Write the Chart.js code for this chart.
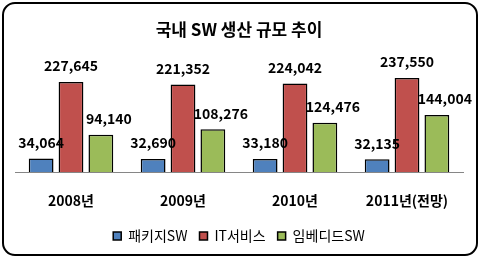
<!DOCTYPE html>
<html>
<head>
<meta charset="utf-8">
<script src="https://cdn.jsdelivr.net/npm/chart.js@4/dist/chart.umd.min.js"></script>
<style>
  html, body { margin: 0; padding: 0; background: #fff; }
  #wrap { width: 480px; height: 259px; }
</style>
</head>
<body>
<div id="wrap"><canvas id="c" width="480" height="259"></canvas></div>
<script>
const years = ['2008년', '2009년', '2010년', '2011년(전망)'];
const packageSW = [34064, 32690, 33180, 32135];
const itService = [227645, 221352, 224042, 237550];
const embeddedSW = [94140, 108276, 124476, 144004];

const FONT = '"Noto Sans CJK KR", "Noto Sans", sans-serif';

// rounded frame around the whole chart
const framePlugin = {
  id: 'frame',
  beforeDraw(chart) {
    const ctx = chart.ctx;
    ctx.save();
    ctx.fillStyle = '#fff';
    ctx.fillRect(0, 0, chart.width, chart.height);
    ctx.beginPath();
    ctx.roundRect(3, 3, 474, 252, 12);
    ctx.lineWidth = 2;
    ctx.strokeStyle = '#000';
    ctx.stroke();
    ctx.restore();
  }
};

// value labels above each bar (the green ones sit a bit to the right in the original)
const labelShift = [0, 0, 8];
const valueLabels = {
  id: 'valueLabels',
  afterDatasetsDraw(chart) {
    const ctx = chart.ctx;
    ctx.save();
    ctx.font = 'bold 14px ' + FONT;
    ctx.fillStyle = '#000';
    ctx.textAlign = 'center';
    ctx.textBaseline = 'middle';
    chart.data.datasets.forEach((ds, i) => {
      chart.getDatasetMeta(i).data.forEach((bar, j) => {
        ctx.fillText(ds.data[j].toLocaleString('en-US'), bar.x + labelShift[i], bar.y - 16);
      });
    });
    ctx.restore();
  }
};

new Chart(document.getElementById('c'), {
  type: 'bar',
  data: {
    labels: years,
    datasets: [
      { label: '패키지SW', data: packageSW, backgroundColor: '#4F81BD' },
      { label: 'IT서비스', data: itService, backgroundColor: '#C0504D' },
      { label: '임베디드SW', data: embeddedSW, backgroundColor: '#9BBB59' }
    ]
  },
  options: {
    responsive: false,
    animation: false,
    devicePixelRatio: 1,
    layout: { padding: { left: 15, right: 17, top: 10, bottom: 6 } },
    datasets: {
      bar: {
        borderColor: '#000',
        borderWidth: 1.5,
        categoryPercentage: 0.8,
        barPercentage: 0.83
      }
    },
    plugins: {
      title: {
        display: true,
        text: '국내 SW 생산 규모 추이',
        color: '#000',
        font: { family: FONT, size: 17, weight: 'bold' },
        padding: { top: 9, bottom: 14 }
      },
      legend: {
        position: 'bottom',
        labels: {
          color: '#000',
          font: { family: FONT, size: 14 },
          boxWidth: 8,
          boxHeight: 8,
          padding: 12
        }
      },
      tooltip: { enabled: false }
    },
    scales: {
      x: {
        grid: { display: false, drawTicks: false },
        border: { display: true, color: '#868686', width: 1 },
        ticks: {
          color: '#000',
          font: { family: FONT, size: 14, weight: 'bold' },
          padding: 20
        },
        afterFit(scale) { scale.height = 45; }
      },
      y: {
        display: false,
        min: 0,
        max: 300000
      }
    }
  },
  plugins: [framePlugin, valueLabels]
});
</script>
</body>
</html>
